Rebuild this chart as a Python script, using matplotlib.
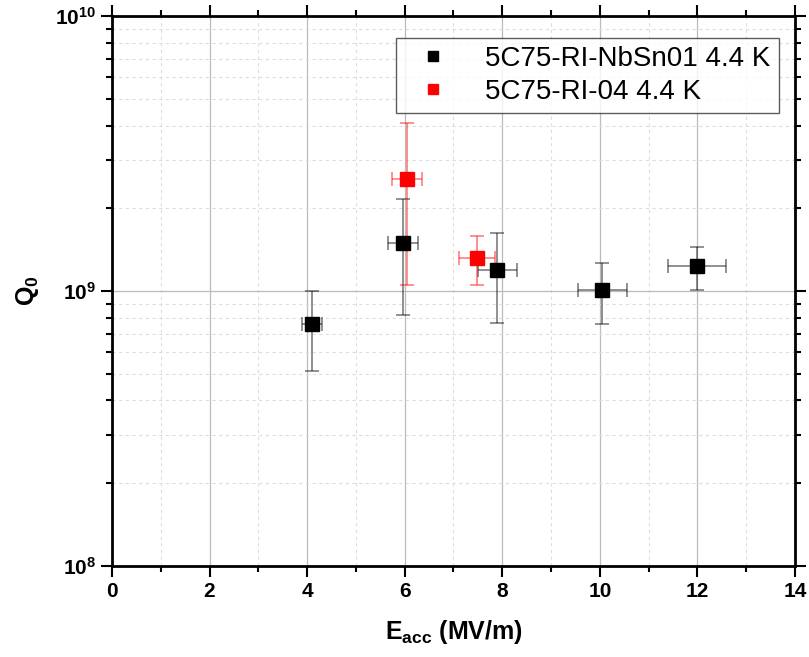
import matplotlib
matplotlib.use("Agg")
import matplotlib.pyplot as plt
from matplotlib.ticker import LogLocator, MultipleLocator, NullFormatter, FuncFormatter
import numpy as np

plt.rcParams["font.family"] = ["Liberation Sans", "DejaVu Sans"]
plt.rcParams["mathtext.fontset"] = "custom"
plt.rcParams["mathtext.rm"] = "Liberation Sans"
plt.rcParams["mathtext.bf"] = "Liberation Sans:bold"

# data
nbsn_e = [4.10, 5.97, 7.90, 10.05, 11.99]
nbsn_q = [7.6e8, 1.50e9, 1.19e9, 1.01e9, 1.23e9]
nbsn_q_hi = [1.0e9, 2.17e9, 1.63e9, 1.26e9, 1.445e9]
nbsn_q_lo = [5.1e8, 8.2e8, 7.65e8, 7.6e8, 1.01e9]
nbsn_e_err = [0.21, 0.31, 0.40, 0.50, 0.60]

ri04_e = [6.05, 7.49]
ri04_q = [2.56e9, 1.32e9]
ri04_q_hi = [4.07e9, 1.59e9]
ri04_q_lo = [1.05e9, 1.05e9]
ri04_e_err = [0.30, 0.37]

labels = ["5C75-RI-NbSn01 4.4 K", "5C75-RI-04 4.4 K"]

fig = plt.figure(figsize=(8.09, 6.57), dpi=100)
ax = fig.add_axes([0.1384, 0.1385, 0.8443, 0.837])

def draw(e, q, hi, lo, eerr, color, label):
    yerr = [[a - b for a, b in zip(q, lo)], [b - a for a, b in zip(q, hi)]]
    ax.errorbar(e, q, xerr=eerr, yerr=yerr, fmt="none", ecolor=color, alpha=0.55,
                elinewidth=1.1, capsize=5, capthick=1.1, zorder=3)
    ax.plot(e, q, "s", color=color, markersize=10, label=label, zorder=4, linestyle="none")

draw(nbsn_e, nbsn_q, nbsn_q_hi, nbsn_q_lo, nbsn_e_err, "black", labels[0])
draw(ri04_e, ri04_q, ri04_q_hi, ri04_q_lo, ri04_e_err, "red", labels[1])

ax.set_yscale("log")
ax.set_xlim(0, 14)
ax.set_ylim(1e8, 1e10)
ax.xaxis.set_major_locator(MultipleLocator(2))
ax.xaxis.set_minor_locator(MultipleLocator(1))
ax.yaxis.set_major_locator(LogLocator(base=10, numticks=5))
ax.yaxis.set_major_formatter(FuncFormatter(
    lambda v, p: r"$\mathbf{10^{%d}}$" % int(round(np.log10(v)))))
ax.yaxis.set_minor_locator(LogLocator(base=10, subs=range(2, 10), numticks=20))
ax.yaxis.set_minor_formatter(NullFormatter())

ax.grid(which="major", color="#bbbbbb", linewidth=0.9, linestyle="-")
ax.grid(which="minor", color="#dddddd", linewidth=0.8, linestyle=(0, (3, 3)))
ax.set_axisbelow(True)

for s in ax.spines.values():
    s.set_linewidth(2)
ax.tick_params(which="both", direction="out", top=True, right=True, width=1.5)
ax.tick_params(which="major", length=8, labelsize=15)
ax.tick_params(which="minor", length=4)
for t in ax.get_xticklabels():
    t.set_fontweight("bold")

ax.set_xlabel(r"E$_\mathbf{acc}$ (MV/m)", fontsize=18, fontweight="bold", labelpad=12)
ax.set_ylabel(r"Q$_\mathbf{0}$", fontsize=18, fontweight="bold", labelpad=10)

leg = ax.legend(loc="upper right", fontsize=20, frameon=True, fancybox=False,
                edgecolor="#333333", handletextpad=0.9, borderpad=0.3,
                labelspacing=0.25, bbox_to_anchor=(0.997, 0.986), markerscale=0.75)
leg.get_frame().set_linewidth(1.0)

plt.savefig("out.png", dpi=100)
plt.close()
